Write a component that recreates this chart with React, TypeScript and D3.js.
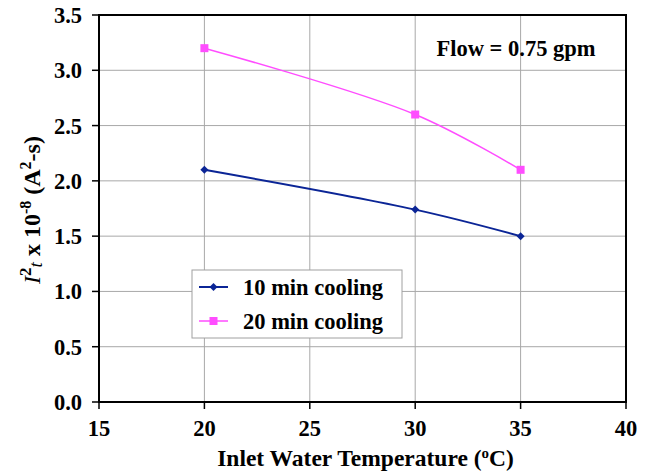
import React from "react";
import * as d3 from "d3";

const temps = [20, 30, 35];
const cool10 = [2.1, 1.74, 1.5];
const cool20 = [3.2, 2.6, 2.1];
const xTicks = [15, 20, 25, 30, 35, 40];
const yTicks = [0, 0.5, 1.0, 1.5, 2.0, 2.5, 3.0, 3.5];
const seriesNames = ["10 min cooling", "20 min cooling"];

const W = 649, H = 472;
const L = 99, R = 626, T = 15, B = 402;
const FONT = "Liberation Serif, Times New Roman, serif";
const FS = 22.5;

export default function App() {
  const x = d3.scaleLinear().domain([15, 40]).range([L, R]);
  const y = d3.scaleLinear().domain([0, 3.5]).range([B, T]);
  const line = d3
    .line<[number, number]>()
    .x((d) => x(d[0]))
    .y((d) => y(d[1]))
    .curve(d3.curveCatmullRom.alpha(0.5));
  const d10 = temps.map((t, i) => [t, cool10[i]] as [number, number]);
  const d20 = temps.map((t, i) => [t, cool20[i]] as [number, number]);
  const blue = "#0b2596";
  const pink = "#ff4dff";
  const diamond = (cx: number, cy: number, r: number) =>
    `M${cx},${cy - r}L${cx + r},${cy}L${cx},${cy + r}L${cx - r},${cy}Z`;
  const tf = { fontFamily: FONT };

  return (
    <svg width={W} height={H} style={{ position: "absolute", left: 0, top: 0, background: "#fff", fontFamily: FONT }}>
      <rect x={0} y={0} width={W} height={H} fill="#fff" />
      {/* grid */}
      {xTicks.map((t) => (
        <line key={"gx" + t} x1={x(t)} x2={x(t)} y1={T} y2={B} stroke="#a8a8a8" strokeWidth={1} />
      ))}
      {yTicks.map((t) => (
        <line key={"gy" + t} x1={L} x2={R} y1={y(t)} y2={y(t)} stroke="#a8a8a8" strokeWidth={1} />
      ))}
      {/* frame */}
      <rect x={L} y={T} width={R - L} height={B - T} fill="none" stroke="#000" strokeWidth={2} />
      {/* ticks */}
      {xTicks.map((t) => (
        <line key={"tx" + t} x1={x(t)} x2={x(t)} y1={B} y2={B + 7} stroke="#000" strokeWidth={1.5} />
      ))}
      {yTicks.map((t) => (
        <line key={"ty" + t} x1={L - 7} x2={L} y1={y(t)} y2={y(t)} stroke="#000" strokeWidth={1.5} />
      ))}
      {/* tick labels */}
      {xTicks.map((t) => (
        <text key={"lx" + t} x={x(t)} y={436} textAnchor="middle" fontSize={FS} fontWeight="bold" style={tf}>
          {t}
        </text>
      ))}
      {yTicks.map((t) => (
        <text key={"ly" + t} x={82} y={y(t) + 8} textAnchor="end" fontSize={FS} fontWeight="bold" style={tf}>
          {t.toFixed(1)}
        </text>
      ))}
      {/* axis titles */}
      <text x={(L + R) / 2 + 3} y={466} textAnchor="middle" fontSize={23.5} fontWeight="bold" style={tf}>
        Inlet Water Temperature (<tspan dy={-8} fontSize={15}>o</tspan><tspan dy={8}>C)</tspan>
      </text>
      <text transform={`translate(40,210) rotate(-90)`} textAnchor="middle" fontSize={24} fontWeight="bold" style={tf}>
        <tspan fontStyle="italic" fontWeight="normal">I</tspan>
        <tspan dy={-9} fontSize={17}>2</tspan>
        <tspan dy={11} fontSize={19} fontStyle="italic" fontWeight="normal">t</tspan>
        <tspan dy={-2}> x 10</tspan>
        <tspan dy={-9} fontSize={16}>-8</tspan>
        <tspan dy={9}> (A</tspan>
        <tspan dy={-9} fontSize={16}>2</tspan>
        <tspan dy={9}>-s)</tspan>
      </text>
      {/* lines */}
      <path d={line(d20) || ""} fill="none" stroke={pink} strokeWidth={1.5} />
      <path d={line(d10) || ""} fill="none" stroke={blue} strokeWidth={2} />
      {d20.map((p, i) => (
        <rect key={"m20" + i} x={x(p[0]) - 4} y={y(p[1]) - 4} width={8} height={8} fill={pink} />
      ))}
      {d10.map((p, i) => (
        <path key={"m10" + i} d={diamond(x(p[0]), y(p[1]), 4)} fill={blue} />
      ))}
      {/* annotation */}
      <text x={516} y={56} textAnchor="middle" fontSize={FS} fontWeight="bold" style={tf}>
        Flow = 0.75 gpm
      </text>
      {/* legend */}
      <rect x={192} y={270} width={210} height={68} fill="#fff" stroke="#a0a0a0" strokeWidth={1} />
      <line x1={199} x2={228} y1={287} y2={287} stroke={blue} strokeWidth={2} />
      <path d={diamond(213.5, 287, 4)} fill={blue} />
      <text x={243} y={295} fontSize={FS} fontWeight="bold" style={tf}>{seriesNames[0]}</text>
      <line x1={199} x2={228} y1={321} y2={321} stroke={pink} strokeWidth={1.5} />
      <rect x={209.5} y={317} width={8} height={8} fill={pink} />
      <text x={243} y={329} fontSize={FS} fontWeight="bold" style={tf}>{seriesNames[1]}</text>
    </svg>
  );
}
